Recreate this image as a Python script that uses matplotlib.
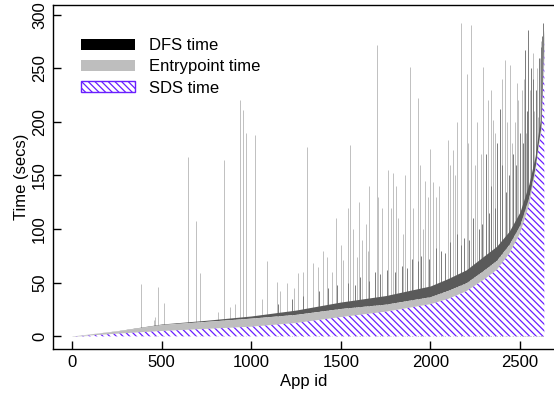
"""Stacked per-app analysis time: SDS, entrypoint and DFS."""
import matplotlib

matplotlib.use("Agg")
import matplotlib.patches as mpatches
import matplotlib.pyplot as plt
import numpy as np

plt.rcParams["font.family"] = ["Liberation Sans", "DejaVu Sans"]
plt.rcParams["hatch.linewidth"] = 0.9

# envelope of the stacked layers (secs)
app_ids = [0, 100, 250, 500, 750, 1000, 1250, 1500, 1750, 2000, 2100, 2200,
           2300, 2370, 2440, 2500, 2550, 2585, 2605, 2620, 2630, 2636]
sds_time = [0, 0.8, 2.5, 5, 7, 9, 12.5, 18, 23, 30, 35, 42,
            53, 62, 77, 96, 122, 152, 177, 192, 240, 278]
entry_time = [0.3, 1.5, 2.5, 6, 7, 8, 8, 8, 7, 7, 8, 8,
              9, 9, 9, 8, 8, 6, 6, 6, 6, 4]
dfs_time = [0, 0, 0.2, 0.5, 1, 2, 4, 6, 8, 10, 11, 12,
            13, 13, 12, 12, 12, 10, 10, 8, 8, 4]

# apps whose entrypoint time sticks out (total height, secs)
entry_spike_ids = [383, 455, 463, 478, 515, 649, 692, 714, 817, 848, 882, 910,
                   937, 952, 969, 1021, 1060, 1086, 1145, 1160, 1200, 1240,
                   1262, 1290, 1313, 1343, 1373, 1400, 1422, 1450, 1473, 1500,
                   1514, 1540, 1553, 1570, 1589, 1600, 1620, 1640, 1650, 1660,
                   1700, 1710, 1730, 1765, 1780, 1793, 1810, 1820, 1850, 1860,
                   1886, 1905, 1929, 1940, 1960, 1970, 1985, 2000, 2013, 2030,
                   2050, 2096, 2110, 2124, 2140, 2150, 2169, 2202, 2210, 2227,
                   2250, 2260, 2280, 2295, 2323, 2340, 2351, 2360, 2400, 2416,
                   2430, 2444, 2455, 2470, 2481, 2490, 2510, 2520, 2535, 2555,
                   2574, 2580, 2595, 2602, 2610, 2620]
entry_spike_tops = [49, 15, 18, 46, 31, 167, 108, 59, 23, 164, 27, 30,
                    220, 211, 190, 188, 35, 70, 51, 42, 50, 45,
                    59, 60, 177, 68, 65, 80, 74, 60, 110, 85,
                    71, 120, 178, 100, 74, 125, 90, 105, 80, 140,
                    272, 130, 120, 155, 120, 152, 140, 110, 95, 150,
                    251, 120, 222, 160, 100, 145, 130, 175, 144, 130,
                    140, 183, 160, 174, 150, 200, 292, 245, 180, 290,
                    160, 200, 170, 251, 220, 230, 202, 190, 240, 258,
                    200, 253, 180, 200, 236, 220, 230, 240, 190, 230,
                    264, 210, 250, 205, 260, 275]

# apps whose DFS time sticks out (total height, secs)
dfs_spike_ids = [1150, 1230, 1290, 1380, 1430, 1480, 1540, 1580, 1610, 1660,
                 1690, 1720, 1760, 1800, 1840, 1870, 1900, 1930, 1950, 1990,
                 2030, 2060, 2080, 2110, 2150, 2170, 2190, 2215, 2240, 2270,
                 2290, 2310, 2330, 2340, 2360, 2370, 2388, 2400, 2420, 2440,
                 2460, 2480, 2500, 2515, 2528, 2540, 2546, 2560, 2575, 2590,
                 2605, 2615, 2625, 2630]
dfs_spike_tops = [30, 35, 38, 42, 45, 48, 50, 48, 55, 52,
                  60, 58, 62, 60, 66, 64, 72, 70, 75, 72,
                  82, 80, 78, 88, 95, 85, 92, 90, 110, 100,
                  105, 170, 115, 140, 120, 180, 212, 160, 135, 150,
                  170, 160, 190, 180, 267, 210, 286, 250, 240, 230,
                  260, 270, 280, 292]

PURPLE = "#6a1fff"
GREY = "#bebebe"
HATCH = "\\\\\\\\\\"

fig = plt.figure(figsize=(5.54, 3.97), dpi=100)
ax = fig.add_axes([53 / 554, 48 / 397, 501 / 554, 344 / 397])

x = np.array(app_ids)
sds = np.array(sds_time)
entry_top = sds + np.array(entry_time)
dfs_top = entry_top + np.array(dfs_time)

# spikes first, the stacked fills cover their lower part
ax.vlines(entry_spike_ids, 0, entry_spike_tops, color="#c0c0c0", lw=0.7, zorder=1)
ax.vlines(dfs_spike_ids, 0, dfs_spike_tops, color="#7a7a7a", lw=0.7, zorder=1)

ax.fill_between(x, entry_top, dfs_top, color="#5a5a5a", lw=0, zorder=2)
ax.fill_between(x, sds, entry_top, color=GREY, lw=0, zorder=2)
ax.fill_between(x, 0, sds, facecolor="white", edgecolor=PURPLE, hatch=HATCH,
                lw=0, zorder=3)

ax.set_xlim(-106, 2690)
ax.set_ylim(-11.8, 309)
ax.set_xticks(range(0, 2501, 500))
ax.set_yticks(range(0, 301, 50))
ax.tick_params(direction="in", length=5.5, width=1.0, labelsize=12, pad=4.3)
for lab in ax.get_yticklabels():
    lab.set_rotation(90)
    lab.set_va("center")
ax.spines["right"].set_visible(False)
for s in ("left", "bottom", "top"):
    ax.spines[s].set_linewidth(1.0)

ax.set_xlabel("App id", fontsize=12, labelpad=3)
ax.set_ylabel("Time (secs)", fontsize=12, labelpad=2)

handles = [
    mpatches.Patch(facecolor="black", edgecolor="black", lw=0),
    mpatches.Patch(facecolor=GREY, edgecolor=GREY, lw=0),
    mpatches.Patch(facecolor="white", edgecolor=PURPLE, hatch=HATCH, lw=1.0),
]
ax.legend(handles, ["DFS time", "Entrypoint time", "SDS time"],
          loc="upper left", bbox_to_anchor=(81 / 554, 1 - 38 / 397),
          bbox_transform=fig.transFigure, frameon=False, fontsize=12,
          handlelength=3.25, handleheight=0.66, handletextpad=0.84,
          labelspacing=0.38, borderpad=0, borderaxespad=0)

fig.savefig("out.png", dpi=100)
